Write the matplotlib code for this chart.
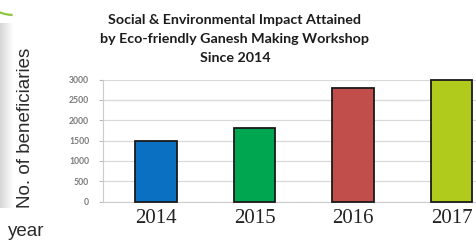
import matplotlib.pyplot as plt
import numpy as np

# data
years = ['2014', '2015', '2016', '2017']
beneficiaries = [1500, 1800, 2800, 3000]
bar_colors = ['#0A70C2', '#00A650', '#C24E4B', '#B1CB1C']
title_lines = ['Social & Environmental Impact Attained',
               'by Eco-friendly Ganesh Making Workshop',
               'Since 2014']

W, H = 477, 242
fig = plt.figure(figsize=(W / 100, H / 100), dpi=100)
fig.patch.set_facecolor('white')

# soft grey shading on the left edge
shade = fig.add_axes([0, 34 / H, 14 / W, 185 / H])
grad = np.linspace(0.84, 1.0, 64).reshape(1, -1)
shade.imshow(grad, aspect='auto', cmap='gray', vmin=0, vmax=1, extent=[0, 1, 0, 1])
shade.axis('off')

# small green arc in the top-left corner
deco = fig.add_axes([0, 0, 1, 1], zorder=5)
deco.set_xlim(0, W)
deco.set_ylim(H, 0)
deco.axis('off')
t = np.linspace(np.pi * 0.52, np.pi * 0.68, 20)
deco.plot(14 + 40 * np.cos(t), -36 + 40 * np.sin(t) + 11, color='#8DC63F', lw=1.6)

ax = fig.add_axes([103 / W, 40.3 / H, (W - 103) / W, 122.2 / H])
x = np.arange(len(years))
ax.bar(x, beneficiaries, width=0.42, color=bar_colors, edgecolor='#1a1a1a',
       linewidth=1.3, zorder=3, clip_on=False)

ax.set_xlim(-0.538, 3.259)
ax.set_ylim(0, 3000)
ax.set_yticks(np.arange(0, 3001, 500))
ax.yaxis.grid(True, color='#d9d9d9', linewidth=0.9, zorder=0)
ax.set_xticks(x)
ax.set_xticklabels(years, fontfamily='Liberation Serif', fontsize=15, color='#222222')
ax.tick_params(axis='x', length=0, pad=5)
ax.tick_params(axis='y', length=3, color='#bbbbbb', pad=7, labelsize=6.2,
               labelcolor='#7a7a7a')
for lab in ax.get_yticklabels():
    lab.set_fontfamily('Lato')
    lab.set_fontweight('bold')
for s in ['top', 'right']:
    ax.spines[s].set_visible(False)
ax.spines['left'].set_color('#cccccc')
ax.spines['bottom'].set_color('#cccccc')
ax.spines['left'].set_linewidth(0.8)
ax.spines['bottom'].set_linewidth(0.8)

# title, three centred lines
for i, line in enumerate(title_lines):
    fig.text(235 / W, 1 - (20 + 19.2 * i) / H, line, ha='center', va='center',
             fontfamily='Lato', fontweight='bold', fontsize=10.3, color='#1c1c1c')

fig.text(26 / W, 1 - 128 / H, 'No. of beneficiaries', rotation=90, ha='center',
         va='center', fontfamily='Liberation Sans', fontsize=13.5, color='#2b2b2b')
fig.text(8 / W, 1 - 236.5 / H, 'year', ha='left', va='baseline',
         fontfamily='Liberation Sans', fontsize=13.5, color='#2b2b2b')

fig.savefig('out.png', dpi=100)
